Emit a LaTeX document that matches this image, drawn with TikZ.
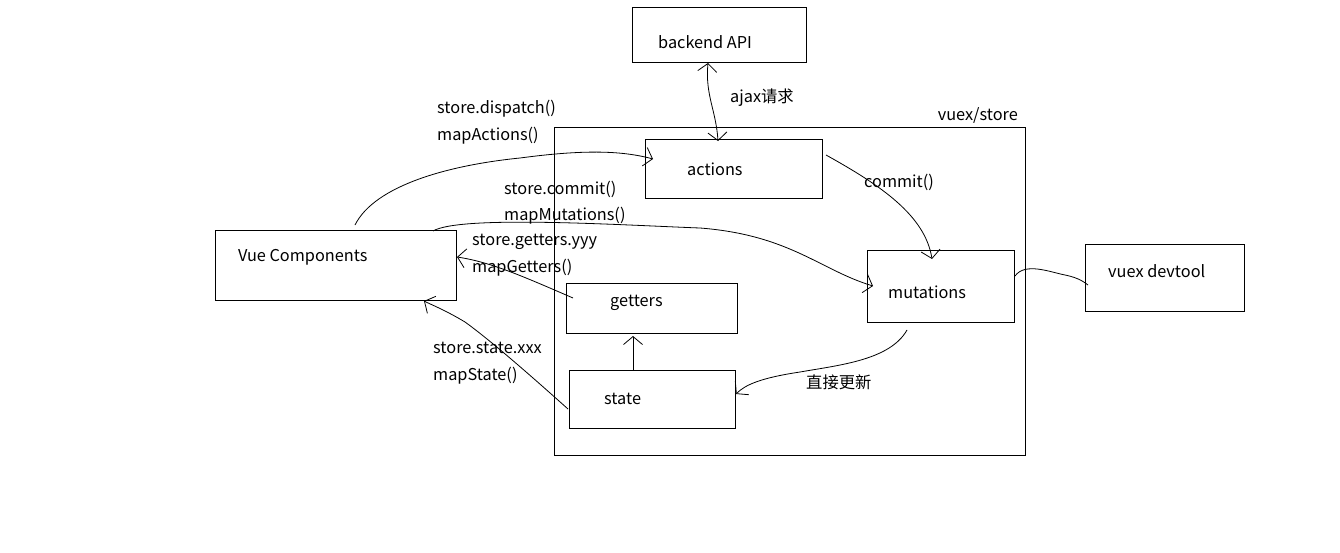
\documentclass[tikz,border=0pt]{standalone}
\usepackage{fontspec}
\setmainfont{Noto Sans CJK SC}
\usetikzlibrary{arrows.meta}
\begin{document}
\begin{tikzpicture}[x=1pt,y=-1pt,
  box/.style={draw,line width=0.9pt,anchor=north west,inner sep=0pt,outer sep=0pt},
  lbl/.style={anchor=west,inner sep=0pt,font=\fontsize{16.3}{19}\selectfont},
  wire/.style={line width=0.8pt},
  hand/.style={wire,-{Straight Barb[length=8pt,width=19pt,line width=0.8pt]}},
  handboth/.style={wire,{Straight Barb[length=8pt,width=19pt,line width=0.8pt]}-{Straight Barb[length=8pt,width=19pt,line width=0.8pt]}}]
\useasboundingbox (0,0) rectangle (1340,552);
% boxes
\node[box,minimum width=471pt,minimum height=328pt] (store) at (554,127) {};
\node[lbl,anchor=east] (storelbl) at (1018,115) {vuex/store};
\node[box,minimum width=174pt,minimum height=55pt] (apibox) at (632,7) {};
\node[lbl] (api) at (658,42) {backend API};
\node[box,minimum width=177pt,minimum height=59pt] (actbox) at (645,139) {};
\node[lbl] (act) at (687,169) {actions};
\node[box,minimum width=147pt,minimum height=72pt] (mutbox) at (867,250) {};
\node[lbl] (mut) at (888,292) {mutations};
\node[box,minimum width=159pt,minimum height=67pt] (devbox) at (1085,244) {};
\node[lbl] (dev) at (1108,271) {vuex devtool};
\node[box,minimum width=241pt,minimum height=70pt] (vuebox) at (215,230) {};
\node[lbl] (vue) at (238,257) {Vue Components};
\node[box,minimum width=171pt,minimum height=50pt] (getbox) at (566,283) {};
\node[lbl] (get) at (610,303) {getters};
\node[box,minimum width=166pt,minimum height=58pt] (stabox) at (569,370) {};
\node[lbl] (sta) at (604,399) {state};
% coordinates of connector ends
\coordinate (apiB) at (708,63);
\coordinate (actT) at (718,141);
\coordinate (actL) at (653,159);
\coordinate (actR) at (826,155);
\coordinate (mutT) at (932,259);
\coordinate (mutL) at (873,286);
\coordinate (mutR) at (1015,276);
\coordinate (mutB) at (907,330);
\coordinate (devL) at (1088,285);
\coordinate (vueTop) at (355,225);
\coordinate (vueTR) at (433,231);
\coordinate (vueR) at (457,257);
\coordinate (vueB) at (424,301);
\coordinate (getL) at (573,298);
\coordinate (getB) at (633,336);
\coordinate (staT) at (633,370);
\coordinate (staL) at (568,409);
\coordinate (staR) at (736,394);
% labels
\node[lbl] (l1) at (437,109) {store.dispatch()};
\node[lbl] (l2) at (437,136) {mapActions()};
\node[lbl] (l3) at (504,189) {store.commit()};
\node[lbl] (l4) at (504,216) {mapMutations()};
\node[lbl] (l5) at (472,242) {store.getters.yyy};
\node[lbl] (l6) at (472,268) {mapGetters()};
\node[lbl] (l7) at (433,348) {store.state.xxx};
\node[lbl] (l8) at (433,376) {mapState()};
\node[lbl] (l9) at (730,98) {ajax请求};
\node[lbl] (l10) at (864,182) {commit()};
\node[lbl] (l11) at (806,382) {直接更新};
% connectors
\draw[handboth] (apiB) .. controls (705,95) and (716,110) .. (actT);
\draw[hand] (vueTop) .. controls (375,185) and (450,165) .. (520,158) .. controls (580,150) and (620,150) .. (actL);
\draw[hand] (actR) .. controls (880,185) and (925,215) .. (mutT);
\draw[hand] (vueTR) .. controls (460,215) and (620,225) .. (700,228) .. controls (790,235) and (820,270) .. (mutL);
\draw[wire] (mutR) .. controls (1025,262) and (1050,272) .. (1065,275) .. controls (1080,278) and (1085,283) .. (devL);
\draw[hand] (mutB) .. controls (890,360) and (840,365) .. (800,372) .. controls (760,378) and (745,385) .. (staR);
\draw[hand] (staT) -- (getB);
\draw[hand] (getL) .. controls (520,275) and (490,262) .. (vueR);
\draw[hand] (staL) .. controls (530,375) and (490,340) .. (465,322) .. controls (445,310) and (432,305) .. (vueB);
\end{tikzpicture}
\end{document}
